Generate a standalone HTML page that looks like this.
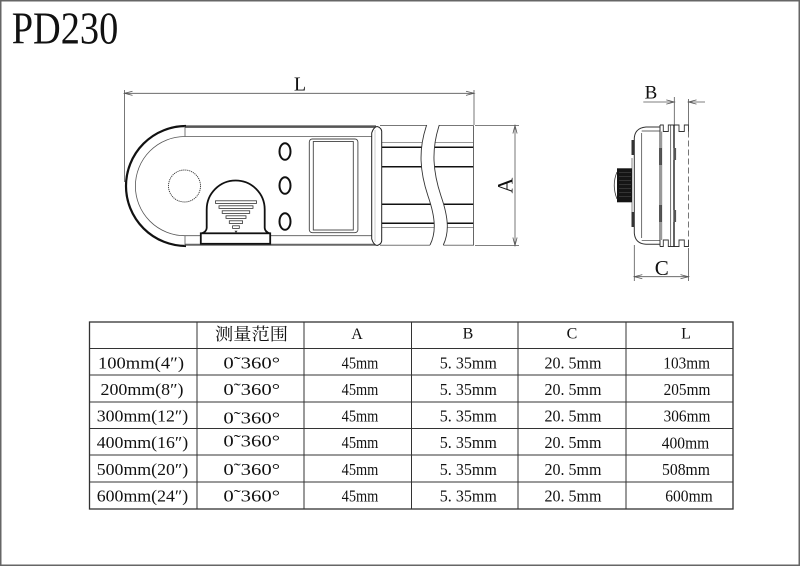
<!DOCTYPE html>
<html>
<head>
<meta charset="utf-8">
<style>
html,body{margin:0;padding:0;background:#fff;}
body{width:800px;height:567px;overflow:hidden;}
svg{display:block;}
text{font-family:"Liberation Serif","Noto Serif CJK SC",serif;fill:#111;}
</style>
</head>
<body>
<svg width="800" height="567" viewBox="0 0 800 567" xmlns="http://www.w3.org/2000/svg">
<!-- frame -->
<rect x="0.75" y="0.75" width="798.5" height="564.5" fill="none" stroke="#666" stroke-width="1.5"/>

<!-- title -->
<text x="11.7" y="43.3" font-size="46" textLength="106.6" lengthAdjust="spacingAndGlyphs">PD230</text>

<!-- ================= FRONT VIEW ================= -->
<g stroke="#555" stroke-width="0.8" fill="none">
  <line x1="124.5" y1="90" x2="124.5" y2="182"/>
  <line x1="474" y1="90" x2="474" y2="125"/>
  <line x1="124.5" y1="93.3" x2="474" y2="93.3"/>
  <path d="M132.5,91.2 L124.5,93.3 L132.5,95.4"/>
  <path d="M466,91.2 L474,93.3 L466,95.4"/>
  <line x1="475" y1="125.5" x2="519" y2="125.5"/>
  <line x1="475" y1="245.5" x2="519" y2="245.5"/>
  <line x1="515" y1="125.5" x2="515" y2="245.5"/>
  <path d="M512.9,133.5 L515,125.5 L517.1,133.5"/>
  <path d="M512.9,237.5 L515,245.5 L517.1,237.5"/>
</g>
<text x="300" y="90.7" font-size="20" text-anchor="middle">L</text>
<text transform="translate(512.7,185.5) rotate(-90)" font-size="22" text-anchor="middle">A</text>

<!-- rail section -->
<g fill="none">
  <line x1="380" y1="125.5" x2="473.5" y2="125.5" stroke="#777" stroke-width="1"/>
  <line x1="380" y1="245.3" x2="473.5" y2="245.3" stroke="#777" stroke-width="1"/>
  <line x1="381" y1="142.6" x2="473.5" y2="142.6" stroke="#777" stroke-width="0.8"/>
  <line x1="381" y1="147.3" x2="473.5" y2="147.3" stroke="#111" stroke-width="1.5"/>
  <line x1="381" y1="166.7" x2="473.5" y2="166.7" stroke="#111" stroke-width="1.5"/>
  <line x1="381" y1="204.3" x2="473.5" y2="204.3" stroke="#111" stroke-width="1.5"/>
  <line x1="381" y1="223.3" x2="473.5" y2="223.3" stroke="#111" stroke-width="1.5"/>
  <line x1="381" y1="227.6" x2="473.5" y2="227.6" stroke="#777" stroke-width="0.8"/>
  <line x1="473.5" y1="125.5" x2="473.5" y2="245.5" stroke="#555" stroke-width="0.9"/>
</g>
<path d="M426.7,121 L426.7,125 C418,150 420,172 428,196 C436,219 436,233 430,245 L430,249 L443.3,249 L443.3,245 C449,233 449,219 441,196 C433,172 431,150 439.3,125 L439.3,121 Z" fill="#fff" stroke="none"/>
<g fill="none" stroke="#333" stroke-width="0.9">
  <path d="M426.7,125 C418,150 420,172 428,196 C436,219 436,233 430,245"/>
  <path d="M439.3,125 C431,150 433,172 441,196 C449,219 449,233 443.3,245"/>
</g>

<!-- head housing -->
<g fill="none">
  <line x1="185" y1="127" x2="376" y2="127" stroke="#666" stroke-width="2"/>
  <line x1="185" y1="244.8" x2="376" y2="244.8" stroke="#666" stroke-width="2"/>
  <line x1="185" y1="125.9" x2="376" y2="125.9" stroke="#222" stroke-width="0.8"/>
  <path d="M186,126 A60,60 0 0 0 186,246" stroke="#111" stroke-width="2.2"/>
  <path d="M185,136.5 A49.5,49.5 0 0 0 185,235.7" stroke="#555" stroke-width="0.8"/>
  <line x1="185" y1="126" x2="185" y2="136.5" stroke="#555" stroke-width="0.8"/>
  <line x1="185" y1="235.7" x2="185" y2="246" stroke="#555" stroke-width="0.8"/>
  <line x1="185" y1="136.5" x2="371.7" y2="136.5" stroke="#555" stroke-width="0.8"/>
  <line x1="185" y1="235.7" x2="371.7" y2="235.7" stroke="#555" stroke-width="0.8"/>
  <path d="M371.7,239 L371.7,133 Q373.5,127.3 377,126.5 Q381,127.5 381.7,131 L381.7,241 Q381,244.5 377,245.5 Q373.5,244.7 371.7,239 Z" stroke="#222" stroke-width="1" fill="#fff"/>
  <line x1="375" y1="130" x2="375" y2="242" stroke="#999" stroke-width="0.5"/>
</g>

<circle cx="184.5" cy="186" r="16" fill="none" stroke="#333" stroke-width="0.9" stroke-dasharray="1.2,0.8"/>

<!-- bell -->
<g>
  <path d="M201,233.5 Q206.5,232 206.7,228 L206.7,209.5 A29,29 0 0 1 264.7,209.5 L264.7,228 Q265,232 270,233.5" fill="#fff" stroke="#111" stroke-width="1.8"/>
  <rect x="200.8" y="233.3" width="69.4" height="10.5" fill="#fff" stroke="#111" stroke-width="1.8"/>
  <g fill="#fff" stroke="#333" stroke-width="0.8">
    <rect x="215.5" y="200.8" width="41" height="2.6"/>
    <rect x="219" y="205.8" width="34" height="2.6"/>
    <rect x="222.2" y="210.8" width="27.5" height="2.6"/>
    <rect x="226" y="215.8" width="20" height="2.6"/>
    <rect x="229.3" y="220.8" width="13.3" height="2.6"/>
    <rect x="232.6" y="225.8" width="6.7" height="2.6"/>
  </g>
  <path d="M234.5,230.8 L237.5,230.8 L236,233 Z" fill="#333"/>
</g>

<g fill="none" stroke="#111" stroke-width="2">
  <ellipse cx="285" cy="151.5" rx="5.5" ry="8.3"/>
  <ellipse cx="285" cy="185.5" rx="5.5" ry="8.3"/>
  <ellipse cx="285" cy="221.5" rx="5.5" ry="8.3"/>
</g>

<rect x="309.3" y="139" width="48.6" height="93.7" rx="3" fill="none" stroke="#444" stroke-width="0.9"/>
<rect x="313.3" y="141.5" width="40" height="88.5" fill="none" stroke="#444" stroke-width="0.9"/>

<!-- ================= SIDE VIEW ================= -->
<g stroke="#555" stroke-width="0.8" fill="none">
  <line x1="674.3" y1="97" x2="674.3" y2="125"/>
  <line x1="688.5" y1="99" x2="688.5" y2="125"/>
  <line x1="643.3" y1="102" x2="674.3" y2="102"/>
  <line x1="688.5" y1="102" x2="705" y2="102"/>
  <path d="M666.3,99.9 L674.3,102 L666.3,104.1"/>
  <path d="M696.5,99.9 L688.5,102 L696.5,104.1"/>
  <line x1="634.3" y1="245" x2="634.3" y2="281"/>
  <line x1="688.5" y1="248" x2="688.5" y2="281"/>
  <line x1="634.3" y1="276.7" x2="688.5" y2="276.7"/>
  <path d="M642.3,274.6 L634.3,276.7 L642.3,278.8"/>
  <path d="M680.5,274.6 L688.5,276.7 L680.5,278.8"/>
</g>
<text x="651" y="98.3" font-size="19" text-anchor="middle">B</text>
<text x="661.7" y="275" font-size="21" text-anchor="middle">C</text>

<g fill="none" stroke="#333" stroke-width="1">
  <path d="M660,127 L646,127 Q635,128 634.3,138 L634.3,233 Q635,243.5 646,244.3 L660,244.3"/>
  <line x1="641.7" y1="131" x2="660" y2="131" stroke-width="0.7"/>
  <line x1="641.7" y1="240.3" x2="660" y2="240.3" stroke-width="0.7"/>
  <line x1="641.7" y1="133" x2="641.7" y2="238" stroke-width="0.7"/>
  <line x1="660" y1="125" x2="660" y2="246.5"/>
  <line x1="632" y1="158" x2="632" y2="212" stroke-width="0.6"/>
</g>
<rect x="631.5" y="140" width="3" height="15" fill="#333"/>
<rect x="631.5" y="212" width="3" height="15" fill="#333"/>
<!-- knob -->
<rect x="617" y="168.3" width="15" height="34" fill="#151515"/>
<g stroke="#555" stroke-width="0.5">
  <line x1="619" y1="172.5" x2="631" y2="172.5"/>
  <line x1="619" y1="176.5" x2="631" y2="176.5"/>
  <line x1="619" y1="180.5" x2="631" y2="180.5"/>
  <line x1="619" y1="184.5" x2="631" y2="184.5"/>
  <line x1="619" y1="188.5" x2="631" y2="188.5"/>
  <line x1="619" y1="192.5" x2="631" y2="192.5"/>
  <line x1="619" y1="196.5" x2="631" y2="196.5"/>
</g>
<path d="M617,172 Q611.5,185 617,199" fill="none" stroke="#333" stroke-width="0.8"/>

<g fill="none" stroke="#333" stroke-width="0.9">
  <path d="M660,125 L663.3,125 L663.3,131.5 L668.3,131.5 L668.3,125 L679,125 L679,131.5 L684.3,131.5 L684.3,125 L688.5,125 L688.5,131.5"/>
  <path d="M660,246.5 L663.3,246.5 L663.3,240 L668.3,240 L668.3,246.5 L679,246.5 L679,240 L684.3,240 L684.3,246.5 L688.5,246.5 L688.5,240"/>
  <line x1="670.7" y1="125" x2="670.7" y2="246.5" stroke-width="0.7"/>
  <line x1="674" y1="125" x2="674" y2="246.5" stroke="#111" stroke-width="1.3"/>
  <line x1="661.8" y1="131.5" x2="661.8" y2="240" stroke-width="0.6"/>
  <line x1="688.5" y1="131.5" x2="688.5" y2="240" stroke="#555" stroke-width="0.8" stroke-dasharray="6,3"/>
</g>
<rect x="659" y="148" width="2.8" height="17" fill="#555"/>
<rect x="659" y="205" width="2.8" height="17" fill="#555"/>
<rect x="673.5" y="148" width="2.6" height="12" fill="#555"/>
<rect x="673.5" y="210" width="2.6" height="12" fill="#555"/>

<!-- ================= TABLE ================= -->
<g stroke="#333" fill="none">
  <rect x="89.5" y="322" width="643.5" height="187" stroke-width="1.3"/>
  <g stroke-width="1">
    <line x1="197" y1="322" x2="197" y2="509"/>
    <line x1="304" y1="322" x2="304" y2="509"/>
    <line x1="411.5" y1="322" x2="411.5" y2="509"/>
    <line x1="518" y1="322" x2="518" y2="509"/>
    <line x1="626" y1="322" x2="626" y2="509"/>
    <line x1="89.5" y1="348.5" x2="733" y2="348.5"/>
    <line x1="89.5" y1="375" x2="733" y2="375"/>
    <line x1="89.5" y1="402" x2="733" y2="402"/>
    <line x1="89.5" y1="428.5" x2="733" y2="428.5"/>
    <line x1="89.5" y1="455" x2="733" y2="455"/>
    <line x1="89.5" y1="482" x2="733" y2="482"/>
  </g>
</g>

<g font-size="17" text-anchor="middle">
  <text x="251.5" y="340" font-size="17" textLength="73" lengthAdjust="spacingAndGlyphs" font-family="'Noto Serif CJK SC','Noto Sans CJK SC',serif">测量范围</text>
  <text x="357" y="339" font-size="16">A</text>
  <text x="468" y="338.5" font-size="16">B</text>
  <text x="572" y="338.5" font-size="16">C</text>
  <text x="686" y="338.5" font-size="16">L</text>

  <text x="141" y="368.3" textLength="86" lengthAdjust="spacingAndGlyphs">100mm(4″)</text>
  <text x="251.7" y="368.3" textLength="56.7" lengthAdjust="spacingAndGlyphs">0˜360°</text>
  <text x="360" y="368.3" textLength="36.7" lengthAdjust="spacingAndGlyphs">45mm</text>
  <text x="468.3" y="368.3" textLength="57" lengthAdjust="spacingAndGlyphs">5. 35mm</text>
  <text x="573" y="368.3" textLength="57" lengthAdjust="spacingAndGlyphs">20. 5mm</text>
  <text x="686.7" y="368.3" textLength="46.7" lengthAdjust="spacingAndGlyphs">103mm</text>

  <text x="142" y="395" textLength="83" lengthAdjust="spacingAndGlyphs">200mm(8″)</text>
  <text x="251.7" y="395" textLength="56.7" lengthAdjust="spacingAndGlyphs">0˜360°</text>
  <text x="360" y="395" textLength="36.7" lengthAdjust="spacingAndGlyphs">45mm</text>
  <text x="468.3" y="395" textLength="57" lengthAdjust="spacingAndGlyphs">5. 35mm</text>
  <text x="573" y="395" textLength="57" lengthAdjust="spacingAndGlyphs">20. 5mm</text>
  <text x="687" y="395" textLength="46.7" lengthAdjust="spacingAndGlyphs">205mm</text>

  <text x="142.5" y="421.5" textLength="91.5" lengthAdjust="spacingAndGlyphs">300mm(12″)</text>
  <text x="251.7" y="423.5" textLength="56.7" lengthAdjust="spacingAndGlyphs">0˜360°</text>
  <text x="360" y="421.5" textLength="36.7" lengthAdjust="spacingAndGlyphs">45mm</text>
  <text x="468.3" y="421.5" textLength="57" lengthAdjust="spacingAndGlyphs">5. 35mm</text>
  <text x="573" y="421.5" textLength="57" lengthAdjust="spacingAndGlyphs">20. 5mm</text>
  <text x="687" y="421.5" textLength="46.7" lengthAdjust="spacingAndGlyphs">306mm</text>

  <text x="142.5" y="448" textLength="91.5" lengthAdjust="spacingAndGlyphs">400mm(16″)</text>
  <text x="251.7" y="446.5" textLength="56.7" lengthAdjust="spacingAndGlyphs">0˜360°</text>
  <text x="360" y="448" textLength="36.7" lengthAdjust="spacingAndGlyphs">45mm</text>
  <text x="468.3" y="448" textLength="57" lengthAdjust="spacingAndGlyphs">5. 35mm</text>
  <text x="573" y="448" textLength="57" lengthAdjust="spacingAndGlyphs">20. 5mm</text>
  <text x="685.5" y="448.3" textLength="47.5" lengthAdjust="spacingAndGlyphs">400mm</text>

  <text x="142.5" y="475" textLength="91.5" lengthAdjust="spacingAndGlyphs">500mm(20″)</text>
  <text x="251.7" y="475" textLength="56.7" lengthAdjust="spacingAndGlyphs">0˜360°</text>
  <text x="360" y="475" textLength="36.7" lengthAdjust="spacingAndGlyphs">45mm</text>
  <text x="468.3" y="475" textLength="57" lengthAdjust="spacingAndGlyphs">5. 35mm</text>
  <text x="573" y="475" textLength="57" lengthAdjust="spacingAndGlyphs">20. 5mm</text>
  <text x="686" y="475" textLength="48" lengthAdjust="spacingAndGlyphs">508mm</text>

  <text x="142.5" y="501.7" textLength="91.5" lengthAdjust="spacingAndGlyphs">600mm(24″)</text>
  <text x="251.7" y="501.7" textLength="56.7" lengthAdjust="spacingAndGlyphs">0˜360°</text>
  <text x="360" y="501.7" textLength="36.7" lengthAdjust="spacingAndGlyphs">45mm</text>
  <text x="468.3" y="501.7" textLength="57" lengthAdjust="spacingAndGlyphs">5. 35mm</text>
  <text x="573" y="501.7" textLength="57" lengthAdjust="spacingAndGlyphs">20. 5mm</text>
  <text x="689" y="501.7" textLength="47.5" lengthAdjust="spacingAndGlyphs">600mm</text>
</g>
</svg>
</body>
</html>
